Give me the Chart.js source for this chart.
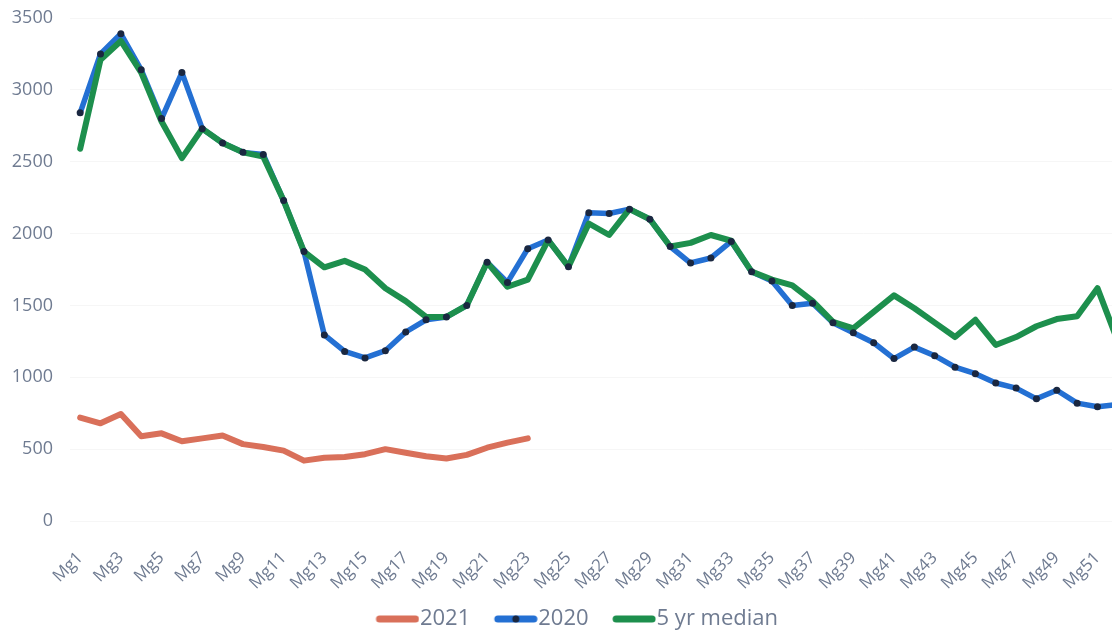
<!DOCTYPE html>
<html>
<head>
<meta charset="utf-8">
<script src="https://cdn.jsdelivr.net/npm/chart.js@4/dist/chart.umd.min.js"></script>
<style>
  html, body { margin: 0; padding: 0; background: #fff; overflow: hidden; }
  #wrap { width: 1112px; height: 634px; overflow: hidden; position: relative; }
  #cases { position: absolute; left: 0; top: 0; }
</style>
</head>
<body>
<div id="wrap"><canvas id="cases" width="1132" height="640"></canvas></div>
<script>
var weeks = ['Mg1','Mg2','Mg3','Mg4','Mg5','Mg6','Mg7','Mg8','Mg9','Mg10',
  'Mg11','Mg12','Mg13','Mg14','Mg15','Mg16','Mg17','Mg18','Mg19','Mg20',
  'Mg21','Mg22','Mg23','Mg24','Mg25','Mg26','Mg27','Mg28','Mg29','Mg30',
  'Mg31','Mg32','Mg33','Mg34','Mg35','Mg36','Mg37','Mg38','Mg39','Mg40',
  'Mg41','Mg42','Mg43','Mg44','Mg45','Mg46','Mg47','Mg48','Mg49','Mg50',
  'Mg51','Mg52'];

var y2021 = [720, 680, 745, 590, 610, 555, 575, 595, 535, 515,
  490, 420, 440, 445, 465, 500, 475, 450, 435, 460,
  510, 545, 575];

var y2020 = [2840, 3250, 3390, 3140, 2800, 3120, 2730, 2630, 2565, 2550,
  2230, 1875, 1295, 1180, 1135, 1185, 1315, 1400, 1420, 1500,
  1800, 1660, 1895, 1955, 1770, 2145, 2140, 2170, 2100, 1910,
  1795, 1830, 1945, 1735, 1670, 1500, 1515, 1380, 1310, 1240,
  1130, 1210, 1150, 1070, 1025, 960, 925, 850, 910, 820,
  795, 810];

var median5 = [2590, 3210, 3340, 3120, 2780, 2525, 2730, 2630, 2565, 2535,
  2230, 1875, 1765, 1810, 1750, 1620, 1530, 1420, 1420, 1500,
  1800, 1630, 1680, 1955, 1770, 2070, 1990, 2170, 2100, 1910,
  1935, 1990, 1950, 1735, 1680, 1640, 1530, 1385, 1340, 1455,
  1570, 1480, 1380, 1280, 1400, 1225, 1280, 1355, 1405, 1425,
  1620, 1250];

var seriesNames = ['2021', '2020', '5 yr median'];

var salmon = '#d9705a';
var blue = '#2470d3';
var green = '#1d8f4d';
var marker = '#1a2740';
var textColor = '#6f7b91';

// little line swatches for the legend (drawn a bit off-centre so the text sits close)
function swatch(color, dot) {
  var c = document.createElement('canvas');
  c.width = 68;
  c.height = 12;
  var g = c.getContext('2d');
  g.strokeStyle = color;
  g.lineWidth = 7;
  g.lineCap = 'round';
  g.beginPath();
  g.moveTo(28, 6);
  g.lineTo(64, 6);
  g.stroke();
  if (dot) {
    g.fillStyle = marker;
    g.beginPath();
    g.arc(46, 6, 3.5, 0, Math.PI * 2);
    g.fill();
  }
  return c;
}
var swatches = [swatch(salmon, false), swatch(blue, true), swatch(green, false)];

var ctx = document.getElementById('cases').getContext('2d');
var casesChart = new Chart(ctx, {
  type: 'line',
  data: {
    labels: weeks,
    datasets: [{
      label: seriesNames[0],
      data: y2021,
      borderColor: salmon,
      borderWidth: 6,
      pointRadius: 0,
      order: 3
    }, {
      label: seriesNames[1],
      data: y2020,
      borderColor: blue,
      borderWidth: 5.5,
      pointRadius: 0,
      order: 2
    }, {
      label: seriesNames[2],
      data: median5,
      borderColor: green,
      borderWidth: 6,
      pointRadius: 0,
      order: 1
    }, {
      label: '2020 markers',
      data: y2020,
      showLine: false,
      pointRadius: 3.5,
      pointBackgroundColor: marker,
      pointBorderWidth: 0,
      order: 0
    }]
  },
  options: {
    responsive: false,
    animation: false,
    devicePixelRatio: 1,
    elements: {
      line: { tension: 0, borderJoinStyle: 'round', borderCapStyle: 'round' }
    },
    layout: {
      padding: { left: 8, top: 18, right: 0, bottom: 0 }
    },
    scales: {
      x: {
        offset: true,
        grid: { display: false, offset: true },
        border: { display: false },
        afterFit: function (axis) {
          axis.height = 77;
          axis.paddingLeft = 0;
          axis.paddingRight = 0;
        },
        ticks: {
          autoSkip: false,
          maxRotation: 45,
          minRotation: 45,
          padding: 19,
          color: textColor,
          font: { family: 'Open Sans', size: 17 },
          callback: function (value, index) {
            return index % 2 ? '' : weeks[index];
          }
        }
      },
      y: {
        min: 0,
        max: 3500,
        border: { display: false },
        grid: { color: 'rgba(0,0,0,0.035)', drawTicks: false },
        afterFit: function (axis) {
          axis.width = 62;
          axis.paddingTop = 0;
          axis.paddingBottom = 0;
        },
        ticks: {
          stepSize: 500,
          padding: 17,
          color: textColor,
          font: { family: 'Open Sans', size: 18 },
          callback: function (value) { return String(value); }
        }
      }
    },
    plugins: {
      tooltip: { enabled: false },
      legend: {
        position: 'bottom',
        labels: {
          usePointStyle: true,
          pointStyleWidth: 47,
          padding: 10,
          color: textColor,
          font: { family: 'Open Sans', size: 22 },
          generateLabels: function () {
            return seriesNames.map(function (name, i) {
              return {
                text: name,
                pointStyle: swatches[i],
                fillStyle: 'transparent',
                strokeStyle: 'transparent',
                lineWidth: 0,
                fontColor: textColor,
                hidden: false,
                datasetIndex: i
              };
            });
          }
        }
      }
    }
  }
});
</script>
</body>
</html>
